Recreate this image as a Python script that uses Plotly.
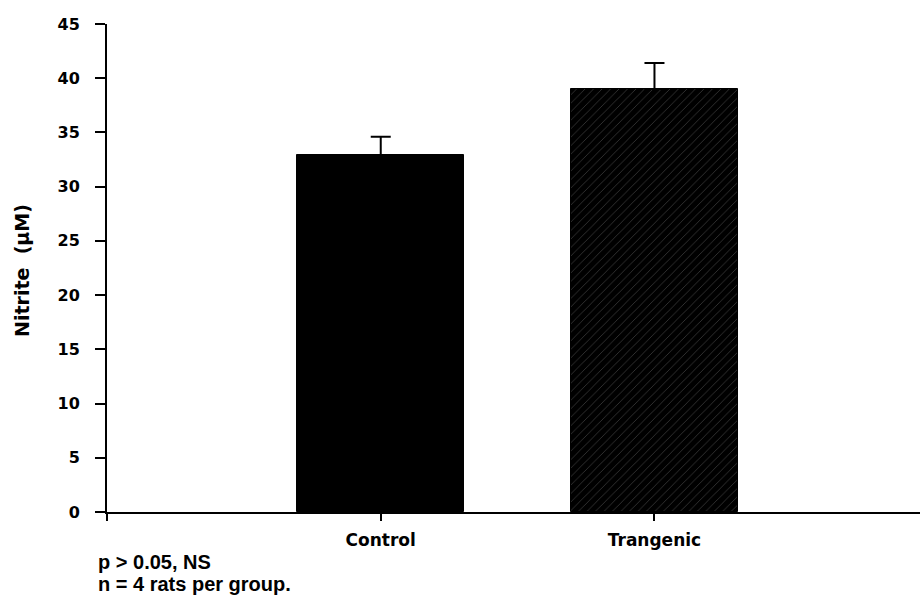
import plotly.graph_objects as go

# Nitrite levels (µM), mean with upward SEM, n = 4 rats per group
categories = ["Control", "Trangenic"]
nitrite_mean = [32.9, 39.0]
nitrite_sem = [1.7, 2.4]
y_ticks = [0, 5, 10, 15, 20, 25, 30, 35, 40, 45]
footnotes = ["p > 0.05, NS", "n = 4 rats per group."]

x_pos = list(range(len(categories)))

fig = go.Figure()

fig.add_trace(go.Bar(
    x=[x_pos[0]], y=[nitrite_mean[0]],
    width=0.61,
    marker=dict(color="black", line=dict(color="black", width=1)),
    error_y=dict(type="data", symmetric=False, array=[nitrite_sem[0]],
                 arrayminus=[0], color="black", thickness=2, width=10),
    showlegend=False,
))
fig.add_trace(go.Bar(
    x=[x_pos[1]], y=[nitrite_mean[1]],
    width=0.61,
    marker=dict(color="black", line=dict(color="black", width=1),
                pattern=dict(shape="/", fgcolor="#808080", bgcolor="black",
                             size=6, solidity=0.12)),
    error_y=dict(type="data", symmetric=False, array=[nitrite_sem[1]],
                 arrayminus=[0], color="black", thickness=2, width=10),
    showlegend=False,
))

fig.update_layout(
    width=920, height=600,
    margin=dict(l=107, r=0, t=24, b=88),
    plot_bgcolor="white", paper_bgcolor="white",
    font=dict(family="DejaVu Sans", color="black"),
    bargap=0,
)

fig.update_xaxes(
    range=[-1.0, 1.97],
    tickmode="array",
    tickvals=[-1] + x_pos,
    ticktext=[""] + categories,
    ticks="outside", ticklen=7, tickwidth=2, tickcolor="black",
    showline=True, linecolor="black", linewidth=2,
    showgrid=False, zeroline=False,
    tickfont=dict(family="DejaVu Sans", size=17, color="black", weight="bold"),
    ticklabelstandoff=5,
)

fig.update_yaxes(
    range=[0, 45],
    tickmode="array",
    tickvals=y_ticks,
    ticks="outside", ticklen=10, tickwidth=2, tickcolor="black",
    showline=True, linecolor="black", linewidth=2,
    showgrid=False, zeroline=False,
    tickfont=dict(family="DejaVu Sans", size=16, color="black", weight="bold"),
    ticklabelstandoff=12,
)

fig.add_annotation(
    text="Nitrite  (µM)",
    xref="paper", yref="paper", x=-0.1046, y=0.496,
    textangle=-90, showarrow=False,
    xanchor="center", yanchor="middle",
    font=dict(family="DejaVu Sans", size=19, color="black", weight="bold"),
)

# Footnote lines below the axis, set with tighter spacing than <br>
for i, line in enumerate(footnotes):
    fig.add_annotation(
        text=line,
        xref="paper", yref="paper", x=-0.0135, y=-0.1025 - 0.045 * i,
        showarrow=False, xanchor="left", yanchor="middle", align="left",
        font=dict(family="Liberation Sans", size=20, color="black", weight="bold"),
    )

fig.write_html("out.html")
